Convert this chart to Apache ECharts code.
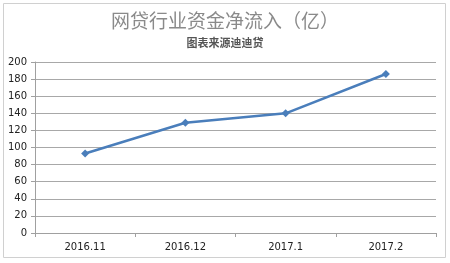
<!DOCTYPE html>
<html><head><meta charset="utf-8">
<script src="https://cdn.jsdelivr.net/npm/echarts@6/dist/echarts.min.js"></script>
<style>html,body{margin:0;padding:0;background:#fff}#c{width:450px;height:263px}</style>
</head><body><div id="c"></div>
<script>
const categories = ['2016.11', '2016.12', '2017.1', '2017.2'];
const values = [93, 129, 140, 186];
const yTicks = [0, 20, 40, 60, 80, 100, 120, 140, 160, 180, 200];
const titleText = '网贷行业资金净流入（亿）';
const subText = '图表来源迪迪贷';

const chart = echarts.init(document.getElementById('c'));
chart.setOption({
  animation: false,
  graphic: [{type:'rect', shape:{x:3.5,y:3.5,width:442,height:254}, style:{fill:'none', stroke:'#d0d0d0', lineWidth:1}}],
  title: {
    text: titleText, subtext: subText, left: 'center', top: 6, itemGap: 7,
    textStyle: {fontFamily:'Noto Sans CJK SC', fontSize: 19, fontWeight: 'normal', color: '#8a8a8a'},
    subtextStyle: {fontFamily:'Noto Sans CJK SC', fontSize: 11, fontWeight: 'bold', color: '#555'}
  },
  grid: {left: 35, right: 14, top: 62, bottom: 30},
  xAxis: {
    type: 'category', data: categories, boundaryGap: true,
    axisLine: {lineStyle: {color: '#a0a0a0'}},
    axisTick: {show: true, alignWithLabel: false, length: 4, lineStyle:{color:'#a0a0a0'}},
    axisLabel: {color: '#222', fontSize: 10, fontFamily: 'DejaVu Sans', margin: 9}
  },
  yAxis: {
    type: 'value', min: yTicks[0], max: yTicks[yTicks.length-1], interval: 20,
    axisLine: {show: true, lineStyle: {color: '#a0a0a0'}},
    axisTick: {show: true, length: 4, lineStyle:{color:'#a0a0a0'}},
    splitLine: {lineStyle: {color: '#a8a8a8'}},
    axisLabel: {color: '#222', fontSize: 10, fontFamily: 'DejaVu Sans', margin: 8}
  },
  series: [{
    type: 'line', data: values, symbol: 'diamond', symbolSize: 8,
    lineStyle: {color: '#4a7ebb', width: 2.5},
    itemStyle: {color: '#4a7ebb'}
  }]
});
</script></body></html>
